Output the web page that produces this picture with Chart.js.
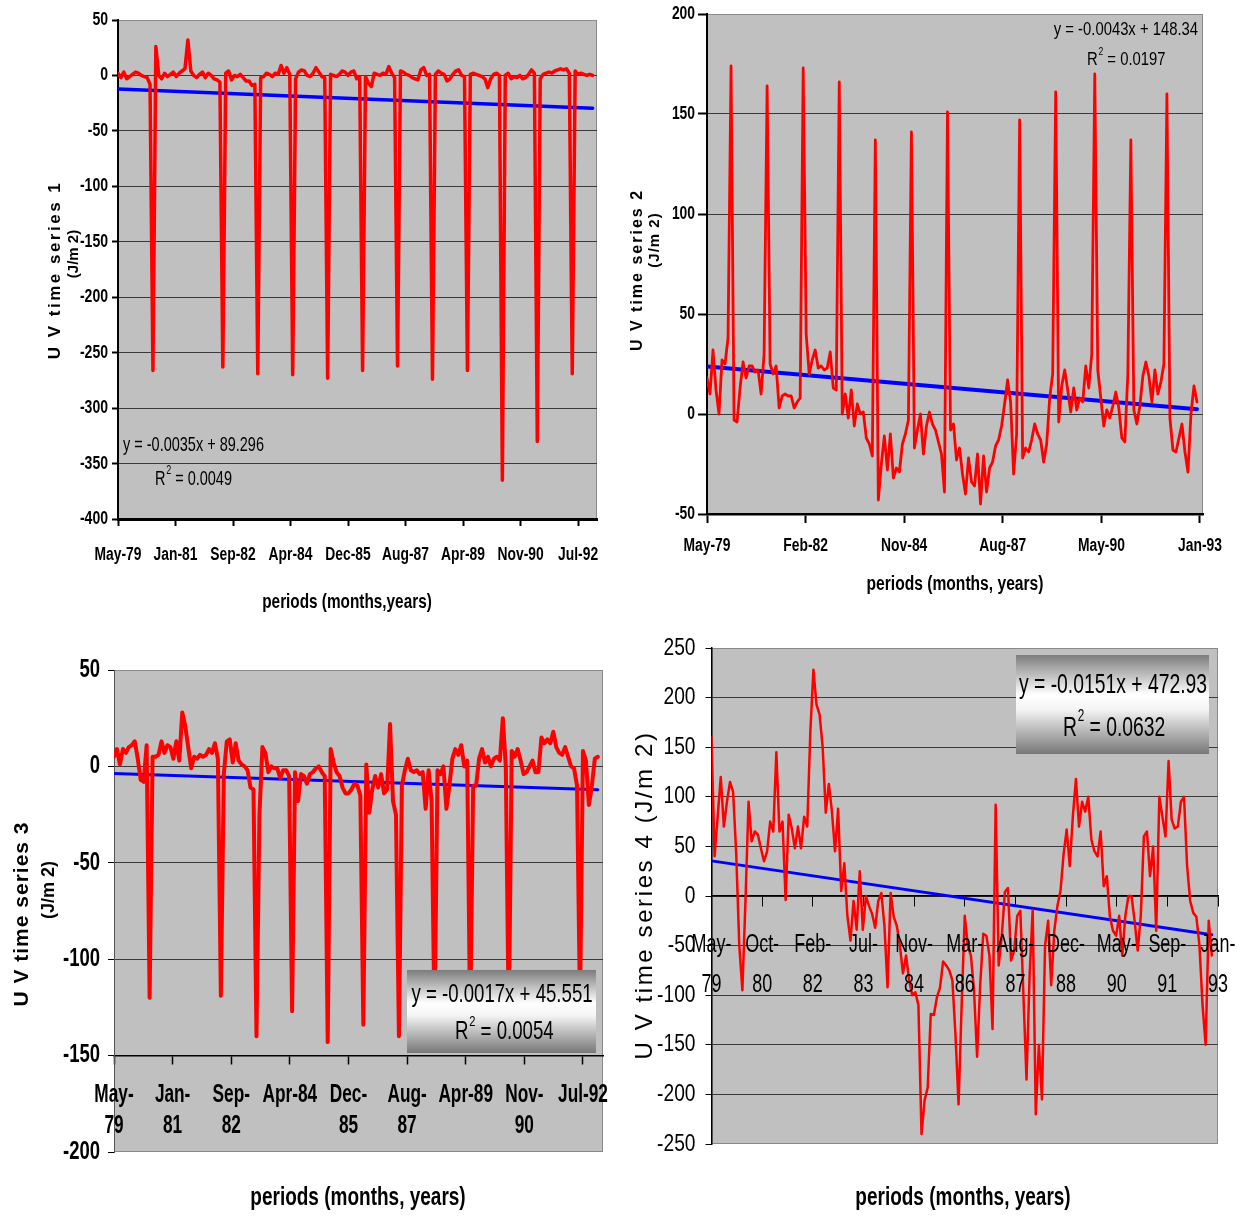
<!DOCTYPE html>
<html>
<head>
<meta charset="utf-8">
<title>UV time series</title>
<script src="https://cdn.jsdelivr.net/npm/chart.js@4.4.0/dist/chart.umd.min.js"></script>
<style>
  body { margin: 0; background: #fff; }
  #wrap { position: relative; width: 1244px; height: 1218px; overflow: hidden; }
  canvas { position: absolute; left: 0; top: 0; }
</style>
</head>
<body>
<div id="wrap">
  <canvas id="uv1" width="1244" height="1218"></canvas>
  <canvas id="uv2" width="1244" height="1218"></canvas>
  <canvas id="uv3" width="1244" height="1218"></canvas>
  <canvas id="uv4" width="1244" height="1218"></canvas>
</div>
<script>
// months, May-79 .. Jan-93
const monthNames = ["Jan", "Feb", "Mar", "Apr", "May", "Jun", "Jul", "Aug", "Sep", "Oct", "Nov", "Dec"];
const categories = [];
for (let i = 0; i < 165; i++) {
	const k = 4 + i;
	categories.push(monthNames[k % 12] + "-" + (79 + Math.floor(k / 12)));
}

// UV time series 1..4 (J/m2), one value per month from May-79
const series1 = [
	2, -2, 3, -3, -1, 1, 3, 2, 0, -1,
	-2, -8, -266, 26, 0, -3, 2, -1, 1, 3,
	-1, 2, 4, 6, 32, 4, 0, -2, 1, 3,
	-2, 2, 0, -3, -4, -6, -263, 2, 4, -4,
	0, -1, 1, -2, -5, -5, -9, -8, -269, -2,
	-1, 2, 1, -1, 2, 1, 9, 2, 7, 1,
	-270, -3, 3, 5, 4, 0, -1, 2, 7, 3,
	-1, -2, -273, 1, 0, -1, 1, 4, 3, 0,
	3, 4, -3, -1, -266, -1, -7, -10, 2, 1,
	0, 2, 1, 8, 2, -2, -262, 4, 3, 1,
	0, -2, -3, -4, 5, 7, 0, 1, -274, 1,
	4, 2, 1, -5, -3, 1, 4, 5, 0, -1,
	-266, 1, 2, 1, 0, -1, -3, -11, -3, 1,
	2, 0, -365, 0, 2, -3, -1, -2, 0, -3,
	-2, 1, 5, 2, -330, -3, 1, 2, 3, 2,
	4, 5, 6, 5, 6, 2, -269, 4, 1, 2,
	1, 0, 1, 0
];
const series2 = [
	18, 10, 32, 12, 0, 27, 25, 38, 174, -3,
	-4, 13, 26, 18, 24, 24, 21, 22, 10, 30,
	164, 25, 20, 24, 3, 9, 10, 9, 9, 3,
	6, 8, 173, 40, 20, 27, 32, 23, 24, 22,
	23, 31, 13, 12, 166, 0, 10, -2, 12, -6,
	5, 0, 1, -12, -15, -21, 137, -43, -25, -11,
	-28, -10, -32, -27, -29, -15, -10, -3, 141, -17,
	-8, 0, -20, -6, 1, -5, -8, -14, -20, -39,
	151, -8, -5, -23, -17, -30, -40, -22, -34, -36,
	-20, -45, -21, -39, -27, -24, -16, -13, -6, 5,
	17, 6, -30, -10, 147, -22, -17, -19, -13, -5,
	-10, -13, -24, -15, 8, 20, 161, -4, 14, 22,
	12, 1, 13, 2, 8, 6, 24, 13, 30, 170,
	22, 8, -6, 2, -2, 4, 11, 3, -12, -14,
	20, 137, 2, -5, 4, 19, 26, 19, 6, 22,
	10, 16, 25, 160, -2, -18, -19, -12, -5, -19,
	-29, 0, 14, 6
];
const series3 = [
	5, 9, 1, 9, 7, 10, 11, 13, 4, -7,
	-8, 11, -120, 5, 5, 6, 13, 7, 11, 10,
	4, 13, 3, 28, 21, 10, -1, 5, 4, 6,
	5, 6, 9, 7, 12, 4, -119, -4, 13, 14,
	2, 12, 3, 1, 0, -2, -11, -12, -140, -25,
	10, 7, -3, 0, -1, -1, -6, -2, -2, -5,
	-127, -3, -18, -4, -5, -9, -4, -3, -1, 0,
	-3, -5, -143, 9, 2, -3, -5, -11, -14, -14,
	-12, -9, -10, -15, -134, 1, -24, -12, -5, -11,
	-4, -14, -12, 22, -18, -25, -140, -10, -2, 4,
	-2, -3, -2, -4, -3, -22, -2, -18, -135, -2,
	-4, 0, -22, -10, 4, 9, 6, 11, 0, 3,
	-135, -10, -10, 4, 9, 2, 5, 0, 4, 5,
	3, 25, 0, -135, 8, 5, 9, 3, -4, -3,
	0, 3, -3, -3, 15, 12, 14, 12, 18, 10,
	7, 6, 10, 5, 0, -1, -10, -125, 8, 3,
	-20, -10, 4, 5
];
const series4 = [
	160, 40, 80, 120, 70, 95, 115, 105, 43, -50,
	-95, -5, 95, 55, 65, 62, 48, 35, 45, 75,
	65, 145, 65, 75, -4, 82, 68, 48, 70, 48,
	80, 70, 165, 228, 193, 183, 150, 84, 113, 85,
	45, 88, 5, 33, -20, -45, -5, -34, 25, -34,
	0, -10, -18, -32, -5, 3, -30, -92, 3, -21,
	-30, -50, -78, -60, -85, -100, -97, -110, -240, -206,
	-193, -119, -120, -102, -92, -66, -70, -75, -85, -140,
	-210, -110, -20, -50, -60, -95, -162, -90, -38, -40,
	-60, -134, 92, -70, -40, 4, 8, -65, -55, -20,
	-15, -100, -185, -80, -14, -220, -150, -205, -50, -25,
	-90, -35, -10, 5, 42, 67, 30, 80, 118, 70,
	95, 85, 100, 57, 45, 40, 65, 10, 20, -21,
	-35, -40, -20, -60, -20, 0, 0, -25, -55, -20,
	60, 65, 20, 50, -35, 100, 80, 60, 136, 77,
	68, 70, 95, 100, 30, -5, -17, -21, -50, -110,
	-150, -25, -60
];

// x axis tick labels
const ticks1 = ["May-79", "Jan-81", "Sep-82", "Apr-84", "Dec-85", "Aug-87", "Apr-89", "Nov-90", "Jul-92"];
const ticks2 = ["May-79", "Feb-82", "Nov-84", "Aug-87", "May-90", "Jan-93"];
const ticks3 = ["May-79", "Jan-81", "Sep-82", "Apr-84", "Dec-85", "Aug-87", "Apr-89", "Nov-90", "Jul-92"];
const ticks4 = ["May-79", "Oct-80", "Feb-82", "Jul-83", "Nov-84", "Mar-86", "Aug-87", "Dec-88", "May-90", "Sep-91", "Jan-93"];

// linear trendlines as printed on the charts: slope, intercept (x = date serial), R2
const trend1 = [-0.0035, 89.296, 0.0049];
const trend2 = [-0.0043, 148.34, 0.0197];
const trend3 = [-0.0017, 45.551, 0.0054];
const trend4 = [-0.0151, 472.93, 0.0632];

// no narrow font installed: horizontal texts are squeezed with sx
const SANS = "'Liberation Sans', Arial, sans-serif";
Chart.defaults.font.family = SANS;
Chart.defaults.color = "#000";

// excel date serial of a month label
function serial(label) {
	const [mon, yy] = label.split("-");
	return Date.UTC(1900 + Number(yy), monthNames.indexOf(mon), 1) / 86400000 + 25569;
}

function drawText(ctx, t) {
	ctx.save();
	ctx.font = t.font;
	ctx.fillStyle = "#000";
	ctx.textAlign = t.align || "center";
	ctx.textBaseline = "middle";
	if ("letterSpacing" in ctx) ctx.letterSpacing = (t.ls || 0) + "px";
	ctx.translate(t.x, t.y);
	if (t.rot) ctx.rotate(-Math.PI / 2);
	ctx.scale(t.sx || 1, 1);
	ctx.fillText(t.text, 0, 0);
	ctx.restore();
}

function drawR2(ctx, x, y, size, sx, value) {
	ctx.save();
	ctx.fillStyle = "#000";
	ctx.textAlign = "left";
	ctx.textBaseline = "middle";
	ctx.translate(x, y);
	ctx.scale(sx, 1);
	ctx.font = size + "px " + SANS;
	ctx.fillText("R", 0, 0);
	const w = ctx.measureText("R").width;
	ctx.font = Math.round(size * 0.6) + "px " + SANS;
	ctx.fillText("2", w + 1, -size * 0.42);
	const w2 = ctx.measureText("2").width;
	ctx.font = size + "px " + SANS;
	ctx.fillText(" = " + value, w + w2 + 1, 0);
	ctx.restore();
}

// grey plot area, tick labels, equation box and the free texts
function overlay(p) {
	return {
		id: "overlay",
		beforeDraw(chart) {
			const { ctx, chartArea: a } = chart;
			ctx.save();
			ctx.fillStyle = "#c0c0c0";
			ctx.fillRect(a.left, a.top, a.right - a.left, a.bottom - a.top);
			ctx.strokeStyle = "#8a8a8a";
			ctx.lineWidth = 1;
			ctx.strokeRect(a.left + 0.5, a.top + 0.5, a.right - a.left - 1, a.bottom - a.top - 1);
			ctx.restore();
		},
		afterDraw(chart) {
			const ctx = chart.ctx;
			const a = chart.chartArea;
			const xs = chart.scales.x;
			const ys = chart.scales.y;

			// y tick labels
			const yFont = (p.y.bold ? "bold " : "") + p.y.size + "px " + SANS;
			ys.ticks.forEach((t) => {
				drawText(ctx, { text: t.label, x: a.left - p.y.dx, y: ys.getPixelForValue(t.value), align: "right", font: yFont, sx: p.y.sx });
			});
			// x tick labels, below the axis line
			const xFont = (p.x.bold ? "bold " : "") + p.x.size + "px " + SANS;
			const axisY = p.x.at !== undefined ? ys.getPixelForValue(p.x.at) : a.bottom;
			xs.ticks.forEach((t) => {
				[].concat(t.label).forEach((line, k) => {
					drawText(ctx, { text: line, x: xs.getPixelForValue(t.value), y: axisY + p.x.dy + k * p.x.lh, font: xFont, sx: p.x.sx });
				});
			});

			if (p.box) {
				const b = p.box;
				const g = ctx.createLinearGradient(0, b.y, 0, b.y + b.h);
				g.addColorStop(0, "#7c7c7c");
				g.addColorStop(0.4, "#ffffff");
				g.addColorStop(0.55, "#f4f4f4");
				g.addColorStop(1, "#777777");
				ctx.fillStyle = g;
				ctx.fillRect(b.x, b.y, b.w, b.h);
			}
			const t = p.trend;
			drawText(ctx, {
				text: "y = " + t[0] + "x + " + t[1],
				x: p.eq.x, y: p.eq.y, align: p.eq.align, font: p.eq.size + "px " + SANS, sx: p.eq.sx
			});
			drawR2(ctx, p.eq.rx, p.eq.ry, p.eq.size, p.eq.sx, t[2]);
			p.texts.forEach((tx) => drawText(ctx, tx));
		}
	};
}

function makeChart(id, p) {
	const last = p.values.length - 1;
	const lastTick = categories.indexOf(p.ticks[p.ticks.length - 1]);
	const tickPos = p.ticks.map((_, i) => (i * lastTick) / (p.ticks.length - 1));
	const trendY = (m) => p.trend[0] * serial(categories[m]) + p.trend[1];
	const a = p.area;
	const yMin = p.yRange[0];
	const yMax = p.yRange[1];

	const xAxis = {
		type: "linear",
		min: 0,
		max: p.xMax,
		afterBuildTicks: (s) => {
			s.ticks = tickPos.map((v) => ({ value: v }));
		},
		ticks: {
			display: false,
			autoSkip: false,
			callback: (v, i) => (p.x.wrap ? p.x.wrap(p.ticks[i]) : p.ticks[i])
		},
		grid: {
			drawOnChartArea: false,
			tickLength: p.x.tl,
			tickColor: "#000",
			tickWidth: p.x.tw
		},
		border: { color: "#000", width: p.x.bw }
	};
	if (p.x.at !== undefined) {
		xAxis.position = { y: p.x.at };
	} else {
		xAxis.afterFit = (s) => {
			s.height = 60;
		};
	}

	new Chart(document.getElementById(id), {
		type: "line",
		data: {
			datasets: [
				{
					data: p.values.map((v, i) => ({ x: i, y: v })),
					borderColor: "#ff0000",
					borderWidth: p.redW,
					order: 0
				},
				{
					data: [
						{ x: 0, y: trendY(0) },
						{ x: last, y: trendY(last) }
					],
					borderColor: "#0000ff",
					borderWidth: p.blueW,
					order: 1
				}
			]
		},
		options: {
			responsive: false,
			animation: false,
			events: [],
			layout: {
				padding: {
					left: a[0] - 50,
					top: a[1],
					right: 1244 - a[2],
					bottom: p.x.at !== undefined ? 1218 - a[3] : 1218 - a[3] - 60
				}
			},
			elements: {
				point: { radius: 0 },
				line: { tension: 0, borderJoinStyle: "round", borderCapStyle: "round" }
			},
			plugins: { legend: { display: false }, tooltip: { enabled: false } },
			scales: {
				x: xAxis,
				y: {
					min: yMin,
					max: yMax,
					afterFit: (s) => {
						s.width = 50;
					},
					ticks: { stepSize: 50, display: false },
					grid: {
						color: (c) => (c.tick && (c.tick.value === yMax || c.tick.value === yMin) ? "rgba(0,0,0,0)" : "#3a3a3a"),
						lineWidth: 1,
						tickLength: p.y.tl,
						tickColor: "#000",
						tickWidth: p.y.tw
					},
					border: { color: p.y.bc || "#000", width: p.y.bw }
				}
			}
		},
		plugins: [overlay(p)]
	});
}

const splitLabel = (keep) => (s) => (keep.includes(s) ? s : [s.slice(0, 4), s.slice(4)]);

// top left
makeChart("uv1", {
	values: series1, ticks: ticks1, trend: trend1,
	area: [118, 20, 597, 519], xMax: 164.5, yRange: [-400, 50],
	redW: 3.5, blueW: 3.5,
	x: { tl: 7, tw: 2, bw: 3, size: 18, bold: true, sx: 0.77, dy: 36, lh: 20 },
	y: { tl: 6, tw: 2, bw: 2, size: 18, bold: true, sx: 0.78, dx: 10 },
	eq: { x: 123, y: 445, align: "left", size: 21, sx: 0.69, rx: 155, ry: 479 },
	texts: [
		{ text: "periods (months,years)", x: 347, y: 602, sx: 0.73, font: "bold 21px " + SANS },
		{ text: "U V time series 1", x: 55, y: 270, rot: true, ls: 2.5, font: "bold 17px " + SANS },
		{ text: "(J/m 2)", x: 74, y: 254, rot: true, font: "bold 15px " + SANS }
	]
});

// top right
makeChart("uv2", {
	values: series2, ticks: ticks2, trend: trend2,
	area: [707, 14, 1203, 514], xMax: 165, yRange: [-50, 200],
	redW: 2.8, blueW: 4,
	x: { tl: 9, tw: 2, bw: 2.5, size: 18, bold: true, sx: 0.77, dy: 32, lh: 20 },
	y: { tl: 9, tw: 2, bw: 2, size: 18, bold: true, sx: 0.77, dx: 12 },
	eq: { x: 1198, y: 30, align: "right", size: 19, sx: 0.78, rx: 1087, ry: 60 },
	texts: [
		{ text: "periods (months, years)", x: 955, y: 584, sx: 0.78, font: "bold 20px " + SANS },
		{ text: "U V time series 2", x: 638, y: 270, rot: true, ls: 2, font: "bold 16px " + SANS },
		{ text: "(J/m 2)", x: 655, y: 240, rot: true, ls: 1, font: "bold 15px " + SANS }
	]
});

// bottom left
makeChart("uv3", {
	values: series3, ticks: ticks3, trend: trend3,
	area: [114, 670, 603, 1152], xMax: 164.75, yRange: [-200, 50],
	redW: 4, blueW: 3,
	x: { at: -150, tl: 8, tw: 1.5, bw: 1.5, size: 25, bold: true, sx: 0.69, dy: 40, lh: 31,
		wrap: splitLabel(["Apr-84", "Apr-89", "Jul-92"]) },
	y: { tl: 6, tw: 1, bw: 1, bc: "#555", size: 25, bold: true, sx: 0.74, dx: 14 },
	eq: { x: 502, y: 995, align: "center", size: 25, sx: 0.745, rx: 455, ry: 1032 },
	box: { x: 407, y: 970, w: 189, h: 83 },
	texts: [
		{ text: "periods (months, years)", x: 358, y: 1198, sx: 0.76, font: "bold 25px " + SANS },
		{ text: "U V time series 3", x: 22, y: 914, rot: true, ls: 1, font: "bold 21px " + SANS },
		{ text: "(J/m 2)", x: 49, y: 890, rot: true, font: "bold 18px " + SANS }
	]
});

// bottom right
makeChart("uv4", {
	values: series4, ticks: ticks4, trend: trend4,
	area: [711.5, 648, 1218, 1144], xMax: 164, yRange: [-250, 250],
	redW: 2.5, blueW: 3,
	x: { at: 0, tl: 10, tw: 1, bw: 1.5, size: 26, bold: false, sx: 0.69, dy: 49, lh: 40,
		wrap: splitLabel([]) },
	y: { tl: 6, tw: 1, bw: 1.5, size: 24, bold: false, sx: 0.8, dx: 16 },
	eq: { x: 1113, y: 685, align: "center", size: 28, sx: 0.69, rx: 1063, ry: 728 },
	box: { x: 1016, y: 655, w: 193, h: 99 },
	texts: [
		{ text: "periods (months, years)", x: 963, y: 1198, sx: 0.76, font: "bold 25px " + SANS },
		{ text: "U V time series 4 (J/m 2)", x: 645, y: 895, rot: true, ls: 2.6, font: "24px " + SANS }
	]
});
</script>
</body>
</html>
